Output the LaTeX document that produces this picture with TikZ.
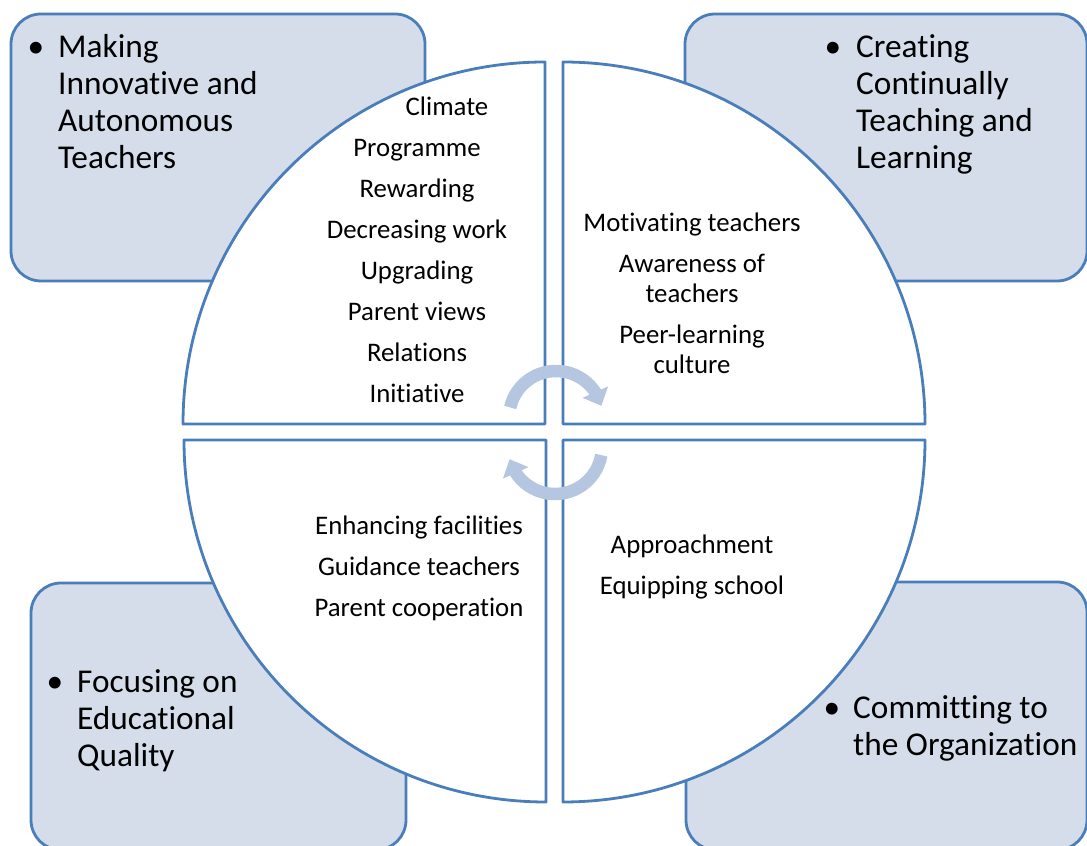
\documentclass[tikz,border=0pt]{standalone}
\usepackage{fontspec}
\setmainfont{Carlito}[Ligatures=NoCommon]
\usetikzlibrary{arrows.meta,bending}
\definecolor{bordercol}{RGB}{74,126,187}
\definecolor{boxfill}{RGB}{213,221,234}
\definecolor{arrowcol}{RGB}{180,198,224}
\begin{document}
\begin{tikzpicture}[x=1pt,y=1pt,
  cornerbox/.style={draw=bordercol, fill=boxfill, line width=2.8pt, rounded corners=30pt},
  sector/.style={draw=bordercol, fill=white, line width=2.8pt, line join=round},
  cycarrow/.style={draw=arrowcol, line width=12.5pt, -{Triangle[width=27pt,length=15pt]}},
  boxtext/.style={font=\fontsize{33.3}{37}\selectfont, align=left, inner sep=0pt, anchor=base west},
  bulletmark/.style={font=\fontsize{33.3}{37}\selectfont, inner sep=0pt, anchor=base},
  itemtext/.style={font=\fontsize{26.8}{41}\selectfont, align=center, inner sep=0pt, anchor=base}]
\useasboundingbox (0,0) rectangle (1087,846);
% corner boxes
\draw[cornerbox] (11,565) rectangle (425,832);
\draw[cornerbox] (685,565) rectangle (1087,832);
\draw[cornerbox] (31,-4) rectangle (406,263);
\draw[cornerbox] (686,-4) rectangle (1087,264);
% quarter sectors
\draw[sector] (545,422) -- (183,422) arc[start angle=180, end angle=90, radius=362pt] -- cycle;
\draw[sector] (563,422) -- (563,784) arc[start angle=90, end angle=0, radius=362pt] -- cycle;
\draw[sector] (546,406) -- (184,406) arc[start angle=180, end angle=270, radius=362pt] -- cycle;
\draw[sector] (563,406) -- (925,406) arc[start angle=0, end angle=-90, radius=362pt] -- cycle;
% cycle arrows
\draw[cycarrow] (556,428) ++(167:47pt) arc[start angle=167, end angle=15, radius=47pt];
\draw[cycarrow] (555,399) ++(-10:47pt) arc[start angle=-10, end angle=-165, radius=47pt];
% corner texts (anchor = baseline of last line)
\node[bulletmark] (tlb) at (36,788) {\textbullet};
\node[boxtext] (tlt) at (58,677) {Making\\Innovative and\\Autonomous\\Teachers};
\node[bulletmark] (trb) at (833,788) {\textbullet};
\node[boxtext] (trt) at (856,677) {Creating\\Continually\\Teaching and\\Learning};
\node[bulletmark] (blb) at (55,153) {\textbullet};
\node[boxtext] (blt) at (77,79) {Focusing on\\Educational\\Quality};
\node[bulletmark] (brb) at (832,127) {\textbullet};
\node[boxtext] (brt) at (853,90) {Committing to\\the Organization};
% sector texts (anchor = baseline of last line)
\node[itemtext] (clim) at (447,730) {Climate};
\node[itemtext] (tll) at (417,443) {Programme\\Rewarding\\Decreasing work\\Upgrading\\Parent views\\Relations\\Initiative};
\node[itemtext, font=\fontsize{26.8}{30}\selectfont] (trl) at (692,472) {Motivating teachers\\[11pt]Awareness of\\teachers\\[11pt]Peer-learning\\culture};
\node[itemtext] (bll) at (419,229) {Enhancing facilities\\Guidance teachers\\Parent cooperation};
\node[itemtext] (brl) at (692,251) {Approachment\\Equipping school};
\end{tikzpicture}
\end{document}
